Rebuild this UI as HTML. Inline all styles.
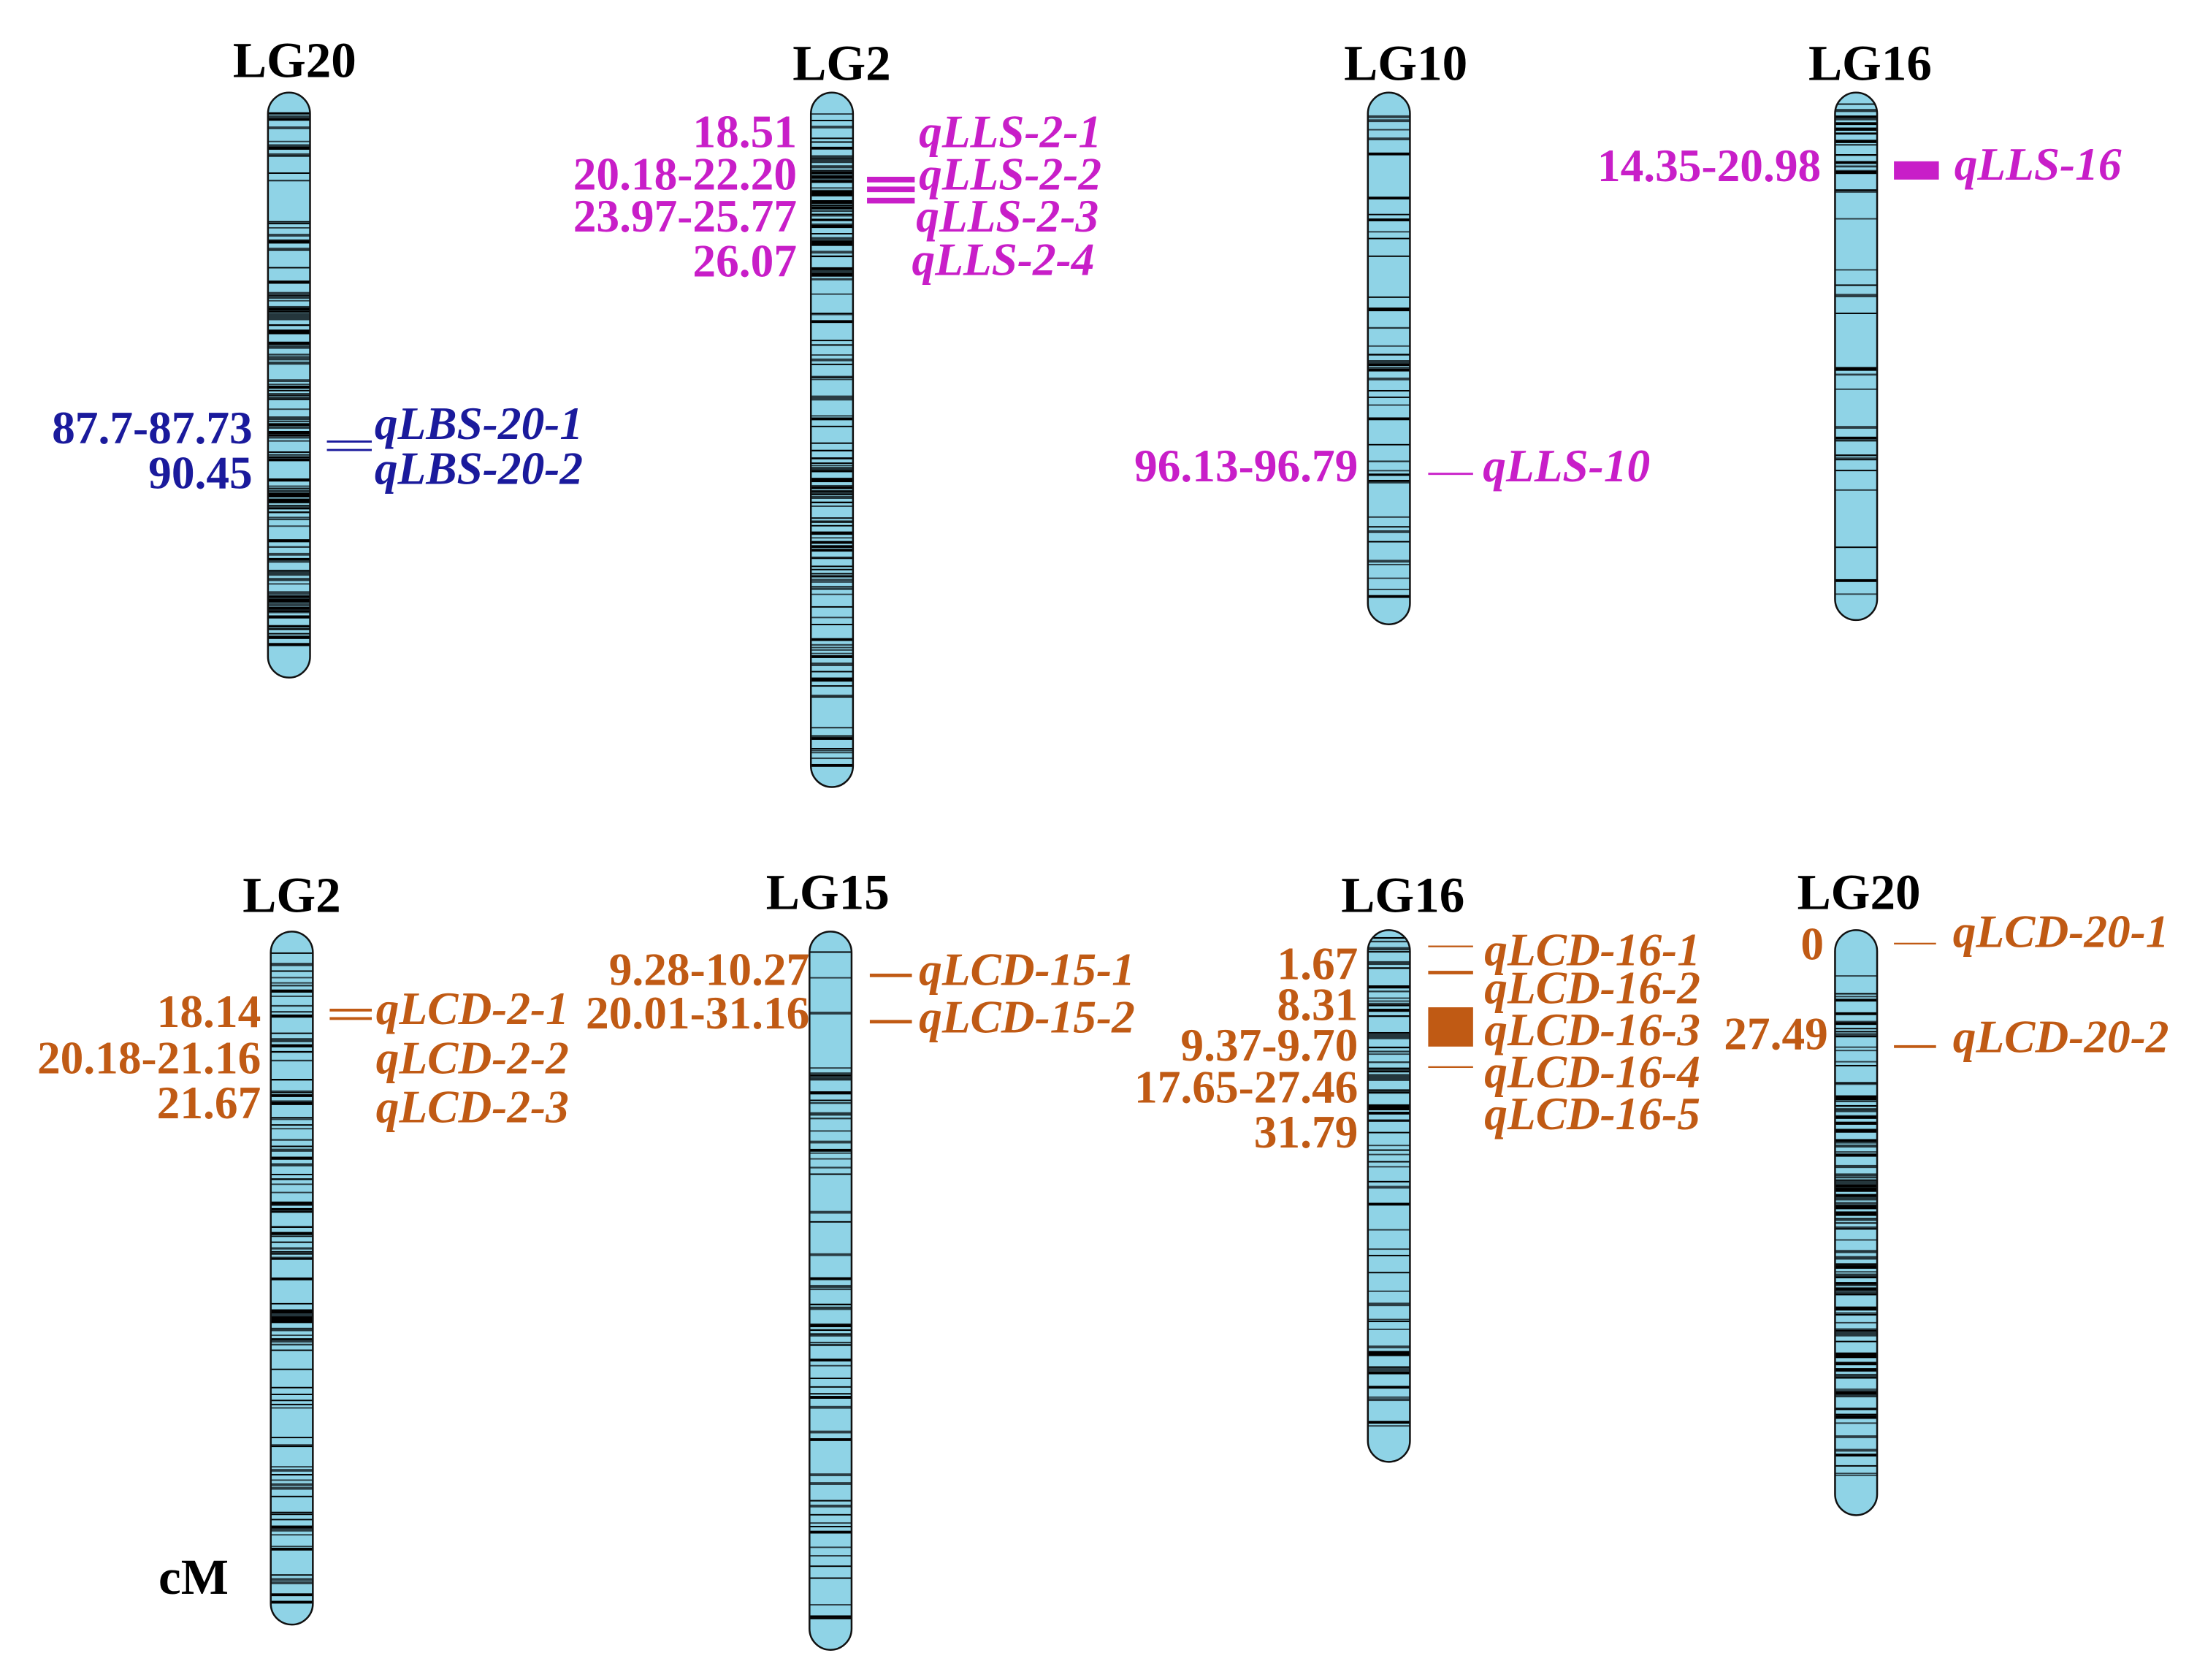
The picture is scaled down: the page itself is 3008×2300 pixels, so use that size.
<!DOCTYPE html>
<html><head><meta charset="utf-8"><style>
html,body{margin:0;padding:0;background:#fff}
svg{display:block}
text{font-family:"Liberation Serif",serif;font-weight:bold}
.t{font-size:36px;fill:#000;text-anchor:middle}
.n{font-size:33px;text-anchor:end}
.q{font-size:33px;font-style:italic}
.m{fill:#c81ec8}.b{fill:#1a1a9c}.o{fill:#c05a14}
</style></head><body>
<svg id="s" width="3008" height="2300" viewBox="0 0 1566 1197.5" preserveAspectRatio="none" xmlns="http://www.w3.org/2000/svg">
<g id="chr"></g>
<text class="t" x="210" y="55">LG20</text>
<text class="t" x="600" y="57">LG2</text>
<text class="t" x="1002" y="57">LG10</text>
<text class="t" x="1333" y="57">LG16</text>
<text class="t" x="208" y="650">LG2</text>
<text class="t" x="590" y="648">LG15</text>
<text class="t" x="1000" y="650">LG16</text>
<text class="t" x="1325" y="648">LG20</text>

<g class="b">
<text class="n b" x="180" y="316">87.7-87.73</text>
<text class="n b" x="180" y="348">90.45</text>
<rect x="233" y="314" width="32" height="1.5"/><rect x="233" y="320" width="32" height="1.5"/>
<text class="q b" x="267" y="313">qLBS-20-1</text>
<text class="q b" x="267" y="345">qLBS-20-2</text>
</g>
<g class="m">
<text class="n m" x="568" y="105">18.51</text>
<text class="n m" x="568" y="135">20.18-22.20</text>
<text class="n m" x="568" y="165">23.97-25.77</text>
<text class="n m" x="568" y="197">26.07</text>
<rect x="618" y="126" width="34" height="4"/><rect x="618" y="133" width="34" height="4"/><rect x="618" y="141" width="34" height="4"/>
<text class="q m" x="655" y="105">qLLS-2-1</text>
<text class="q m" x="655" y="135">qLLS-2-2</text>
<text class="q m" x="653" y="165">qLLS-2-3</text>
<text class="q m" x="650" y="196">qLLS-2-4</text>
<text class="n m" x="968" y="343">96.13-96.79</text>
<rect x="1018" y="337" width="32" height="1.5"/>
<text class="q m" x="1057" y="343">qLLS-10</text>
<text class="n m" x="1298" y="129">14.35-20.98</text>
<rect x="1350" y="115" width="32" height="13"/>
<text class="q m" x="1393" y="128">qLLS-16</text>
</g>
<g class="o">
<text class="n o" x="186" y="732">18.14</text>
<text class="n o" x="186" y="765">20.18-21.16</text>
<text class="n o" x="186" y="797">21.67</text>
<rect x="235" y="719" width="30" height="2"/><rect x="235" y="725" width="30" height="2"/>
<text class="q o" x="268" y="730">qLCD-2-1</text>
<text class="q o" x="268" y="765">qLCD-2-2</text>
<text class="q o" x="268" y="800">qLCD-2-3</text>

<text class="n o" x="577" y="702">9.28-10.27</text>
<text class="n o" x="577" y="733">20.01-31.16</text>
<rect x="620" y="694" width="30" height="2.5"/><rect x="620" y="727" width="30" height="2.5"/>
<text class="q o" x="655" y="702">qLCD-15-1</text>
<text class="q o" x="655" y="736">qLCD-15-2</text>

<text class="n o" x="968" y="698">1.67</text>
<text class="n o" x="968" y="727">8.31</text>
<text class="n o" x="968" y="756">9.37-9.70</text>
<text class="n o" x="968" y="786">17.65-27.46</text>
<text class="n o" x="968" y="818">31.79</text>
<rect x="1018" y="674" width="32" height="1.2"/>
<rect x="1018" y="692" width="32" height="2.5"/>
<rect x="1018" y="718" width="32" height="28"/>
<rect x="1018" y="760" width="32" height="1.2"/>
<text class="q o" x="1058" y="688">qLCD-16-1</text>
<text class="q o" x="1058" y="715">qLCD-16-2</text>
<text class="q o" x="1058" y="745">qLCD-16-3</text>
<text class="q o" x="1058" y="775">qLCD-16-4</text>
<text class="q o" x="1058" y="805">qLCD-16-5</text>

<text class="n o" x="1300" y="684">0</text>
<text class="n o" x="1303" y="748">27.49</text>
<rect x="1350" y="672" width="30" height="1.2"/>
<rect x="1350" y="745" width="30" height="2"/>
<text class="q o" x="1392" y="675">qLCD-20-1</text>
<text class="q o" x="1392" y="750">qLCD-20-2</text>
</g>
<text x="113" y="1136" style="font-size:36px;fill:#000">cM</text>
</svg>
<script>
(function(){
var ns="http://www.w3.org/2000/svg",g=document.getElementById("chr");
var seed=7;function r(){seed=(seed*16807)%2147483647;return seed/2147483647;}
var C=[[206,66,483,70,[[190,460,60],[80,130,6]]],
[593,66,561,110,[[110,200,30],[320,360,15]]],
[990,66,445,30,[[215,265,8],[320,345,6]]],
[1323,66,442,30,[[70,130,15]]],
[208,664,1158,70,[[700,900,30],[930,960,10]]],
[592,664,1176,50,[[760,800,10],[870,960,10]]],
[990,663,1042,45,[[665,800,30]]],
[1323,663,1080,70,[[780,1010,60]]]];
C.forEach(function(c){
 var x=c[0]-15,w=30,t=c[1],b=c[2];
 var cl="c"+c[0]+"_"+t;
 var d=document.createElementNS(ns,"clipPath");d.setAttribute("id",cl);
 var rr=document.createElementNS(ns,"rect");
 rr.setAttribute("x",x);rr.setAttribute("y",t);rr.setAttribute("width",w);rr.setAttribute("height",b-t);rr.setAttribute("rx",15);
 d.appendChild(rr);g.appendChild(d);
 var bg=rr.cloneNode();bg.setAttribute("fill","#8fd3e6");g.appendChild(bg);
 var gg=document.createElementNS(ns,"g");gg.setAttribute("clip-path","url(#"+cl+")");
 function line(y,sw,col){var l=document.createElementNS(ns,"rect");l.setAttribute("x",x);l.setAttribute("width",w);l.setAttribute("y",y);l.setAttribute("height",sw);l.setAttribute("fill",col);gg.appendChild(l);}
 for(var i=0;i<c[3];i++){var y=t+14+r()*(b-t-28);line(y,r()<0.3?2:1,r()<0.5?"#000":"#2b3d44");}
 c[4].forEach(function(z){for(var i=0;i<z[2];i++){var y=z[0]+r()*(z[1]-z[0]);line(y,r()<0.4?2.2:1.2,r()<0.6?"#000":"#24363c");}});
 g.appendChild(gg);
 var o=rr.cloneNode();o.setAttribute("fill","none");o.setAttribute("stroke","#111");o.setAttribute("stroke-width","1.3");g.appendChild(o);
});
})();
</script>
</body></html>
